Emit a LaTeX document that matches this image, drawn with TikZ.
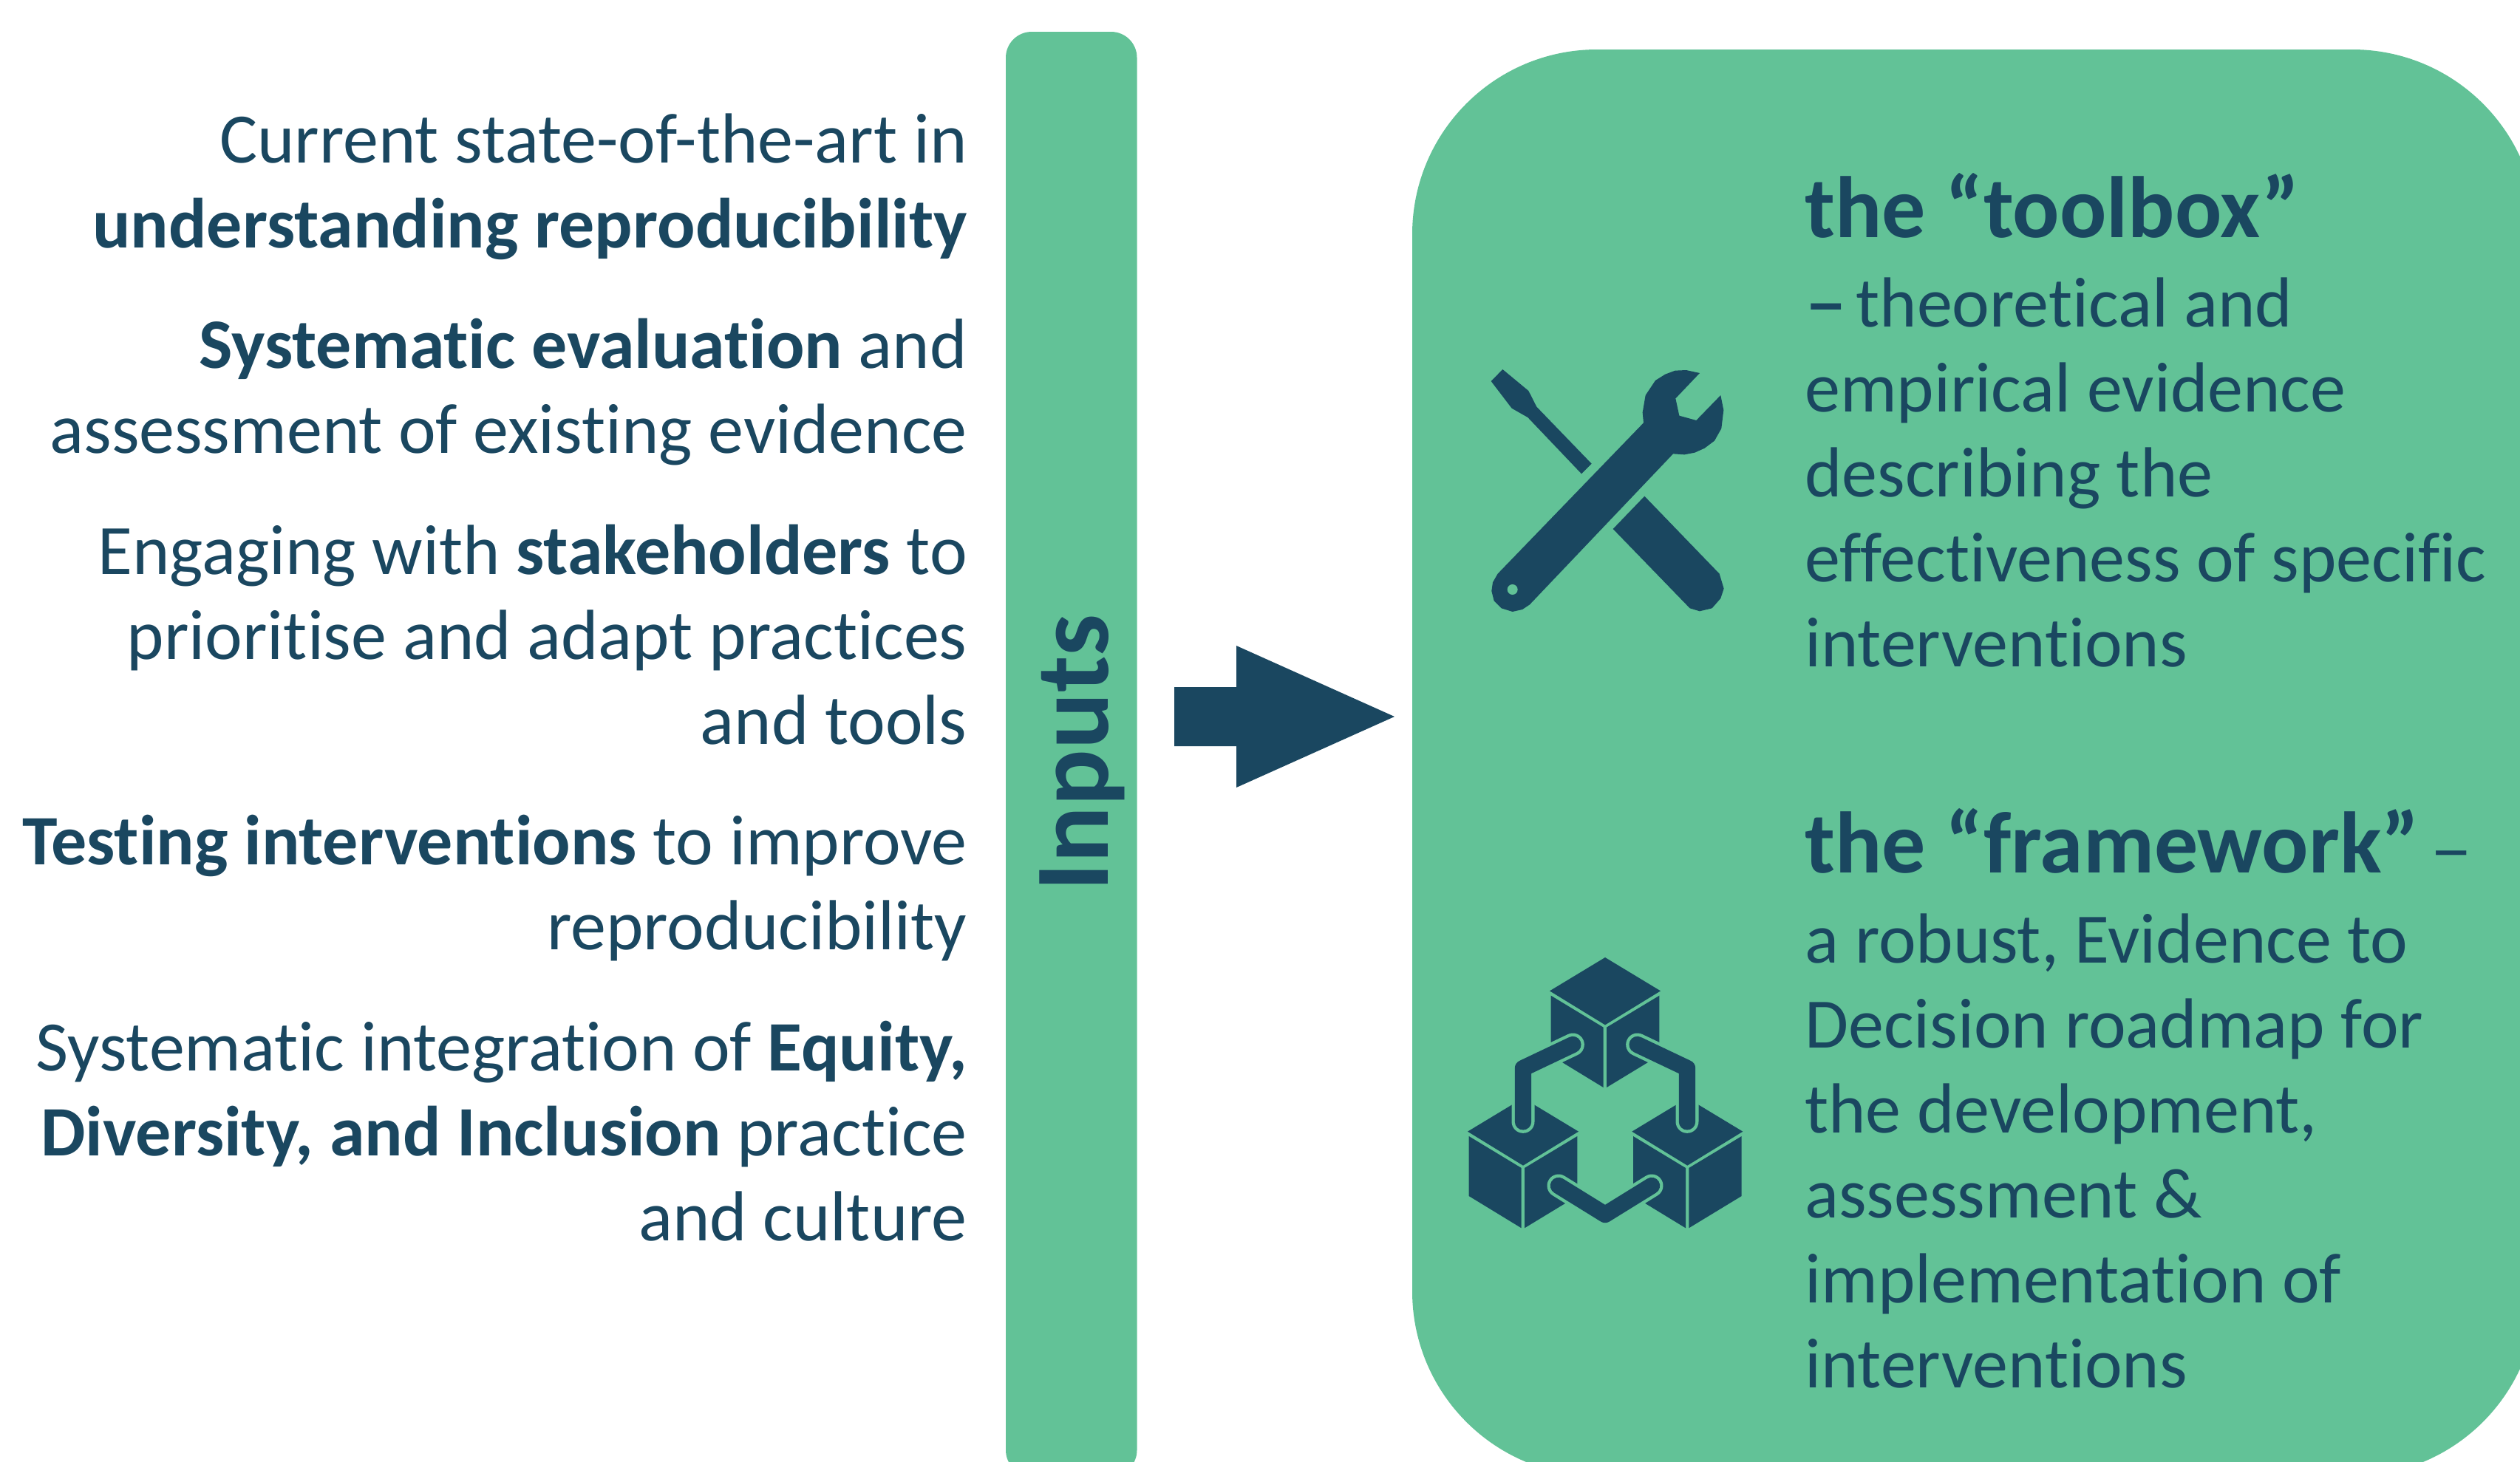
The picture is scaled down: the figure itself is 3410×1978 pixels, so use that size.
\documentclass[tikz,border=0pt]{standalone}
\usepackage{fontspec}
\setmainfont[Ligatures=NoCommon]{Carlito}
\definecolor{panelgreen}{HTML}{62C297}
\definecolor{inkblue}{HTML}{1A4760}
\newcommand{\widedash}[1]{\scalebox{1.2}[1]{#1–}}
\tikzset{
  bodytext/.style={text=inkblue,inner sep=0pt,font=\fontsize{48}{57.5}\selectfont},
  lefttext/.style={bodytext,align=right,anchor=base east},
  righttext/.style={bodytext,align=left,anchor=base west},
  headtext/.style={righttext,font=\fontsize{59}{60}\selectfont},
  iconzoom/.style={x=0.5pt/3,y=-0.5pt/3},
  linkhalo/.style={draw=panelgreen,line width=15.5pt,line cap=round,line join=round},
  linkcore/.style={draw=inkblue,line width=11.2pt,line cap=round,line join=round},
}
\newcommand{\cubeicon}[2]{%
  \begin{scope}[shift={(#1,#2)}]
    \fill[inkblue] (636,78)--(861,214)--(636,352)--(411,214)--cycle;
    \fill[inkblue] (416,233)--(629,362)--(629,606)--(416,476)--cycle;
    \fill[inkblue] (642,362)--(856,233)--(856,476)--(642,606)--cycle;
  \end{scope}}
\newcommand{\linkicon}[1]{%
  \path[linkhalo] #1;
  \path[linkcore] #1;}
\begin{document}
\begin{tikzpicture}[x=0.5pt,y=-0.5pt]
\useasboundingbox (0,0) rectangle (3410,1978);
\clip (0,0) rectangle (3410,1978);
% panels
\fill[panelgreen,rounded corners=17.5pt] (1361,43) rectangle (1538.5,1998);
\fill[panelgreen,rounded corners=125pt] (1911,67) rectangle (3433,1998);
% arrow
\fill[inkblue] (1589,930)--(1673,930)--(1673,874)--(1887,970)--(1673,1066)--(1673,1010)--(1589,1010)--cycle;
% left texts
\node[lefttext] (p1) at (1309,335) {Current state-of-the-art in\\\textbf{understanding reproducibility}};
\node[lefttext] (p2) at (1309,613) {\textbf{Systematic evaluation} and\\assessment of existing evidence};
\node[lefttext] (p3) at (1309,1007) {Engaging with \textbf{stakeholders} to\\prioritise and adapt practices\\and tools};
\node[lefttext] (p4) at (1309,1285) {\textbf{Testing interventions} to improve\\reproducibility};
\node[lefttext] (p5) at (1309,1679) {Systematic integration of \textbf{Equity,}\\\textbf{Diversity, and Inclusion} practice\\and culture};
% bar label
\node[text=inkblue,inner sep=0pt,rotate=90,anchor=base,font=\fontsize{71.5}{80}\selectfont\bfseries] (inputs) at (1499,1019) {Inputs};
% right texts
\node[headtext] (h1) at (2442,321) {\textbf{the “toolbox”}};
\node[righttext] (b1) at (2442,902) {\widedash{\bfseries}\hspace{-5pt} theoretical and\\empirical evidence\\describing the\\effectiveness of specific\\interventions};
\node[headtext] (h2) at (2442,1181) {\textbf{the “framework”}\hspace{-6pt} {\fontsize{48}{57.5}\selectfont\widedash{}}};
\node[righttext] (b2) at (2442,1878) {a robust, Evidence to\\Decision roadmap for\\the development,\\assessment \&\\implementation of\\interventions};
% tools icon
\begin{scope}[shift={(1960,460)},iconzoom]
  \fill[inkblue] (220,120)--(325,207)--(358,272)--(581,503)--(540,544)--(322,315)--(257,278)--(173,168)--cycle;
  \fill[inkblue] (796,635)--(1100,950)--(1118,1010)--(1105,1050)--(1070,1090)--(1020,1102)--(980,1090)--(668,768)--cycle;
  \fill[inkblue] (792,337)--(788,295)--(800,225)--(840,165)--(880,140)--(920,125)--(965,123)--(1020,135)--(922,238)--(937,308)--(1006,327)--(1105,225)--(1117,285)--(1108,360)--(1080,410)--(1040,440)--(1000,458)--(958,466)--(912,463)--(330,1075)--(300,1095)--(260,1104)--(215,1090)--(185,1060)--(175,1020)--(180,985)--(200,950)--cycle;
  \fill[panelgreen] (260,1014) circle[radius=21];
\end{scope}
% blocks icon
\begin{scope}[shift={(1960,1270)},iconzoom]
  \cubeicon{0}{0}
  \cubeicon{-333}{571}
  \cubeicon{334}{571}
  \linkicon{(303,745)--(303,528)--(505,432)}
  \linkicon{(969,745)--(969,528)--(767,432)}
  \linkicon{(447,1005)--(636,1122)--(825,1005)}
\end{scope}
\end{tikzpicture}
\end{document}
